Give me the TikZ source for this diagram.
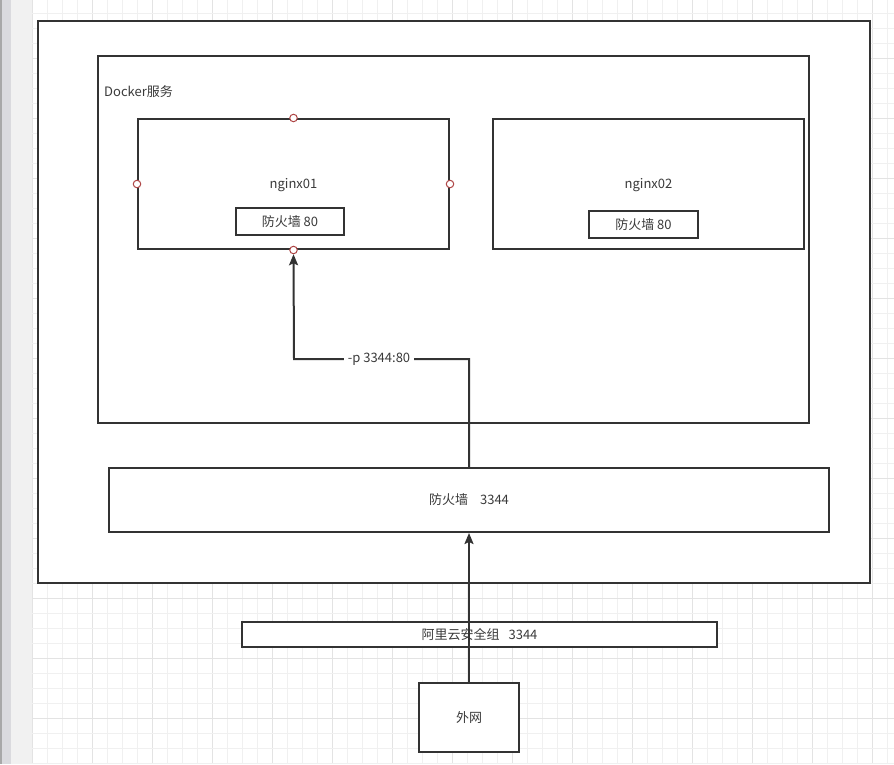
\documentclass[tikz,border=0pt]{standalone}
\usepackage{fontspec}
\setmainfont{Noto Sans CJK SC}
\usetikzlibrary{arrows.meta}
\definecolor{ln}{HTML}{333333}
\definecolor{tx}{HTML}{3A3A3A}
\definecolor{gmin}{HTML}{F0F0F0}
\definecolor{gmaj}{HTML}{E3E3E3}
\definecolor{cp}{RGB}{175,70,70}
\definecolor{sbA}{HTML}{F1F1F1}
\definecolor{sbB}{HTML}{DADADE}
\definecolor{sbC}{HTML}{A8A8A8}
\tikzset{
  box/.style={draw=ln, line width=2pt, fill=white, inner sep=0pt},
  txt/.style={text=tx, font=\fontsize{13}{15}\selectfont, inner sep=1pt},
  cpt/.style={circle, draw=cp, line width=1pt, fill=white, minimum size=7.5pt, inner sep=0pt},
  arr/.style={draw=ln, line width=2pt, -{Stealth[length=11pt,width=9pt,inset=2pt]}},
}
\begin{document}
\begin{tikzpicture}[x=1pt,y=-1pt]
\useasboundingbox (0,0) rectangle (894,764);
% side bars
\fill[white] (0,0) rectangle (894,764);
\fill[sbA] (0,0) rectangle (32,764);
\fill[sbB] (0,0) rectangle (11,764);
\fill[sbC] (0,0) rectangle (1.5,764);
% grid
\foreach \i in {0,...,57} {
  \pgfmathtruncatemacro{\m}{mod(\i,4)}
  \ifnum\m=0 \def\gc{gmaj}\else\def\gc{gmin}\fi
  \draw[draw=\gc, line width=1pt] (32+15*\i,0) -- (32+15*\i,764);
}
\foreach \i in {1,...,51} {
  \pgfmathtruncatemacro{\m}{mod(\i,4)}
  \ifnum\m=0 \def\gc{gmaj}\else\def\gc{gmin}\fi
  \draw[draw=\gc, line width=1pt] (32,-2+15*\i) -- (894,-2+15*\i);
}
% boxes
\node[box, minimum width=832pt, minimum height=562pt] (outer) at (454,302) {};
\node[box, minimum width=711pt, minimum height=367pt] (docker) at (453.5,239.5) {};
\node[txt, anchor=west] (dlabel) at (103,92) {Docker服务};
\node[box, minimum width=311pt, minimum height=130pt] (n1) at (293.5,184) {};
\node[txt] (n1t) at (293.5,185) {nginx01};
\node[box, minimum width=108pt, minimum height=27pt] (fw1) at (290,221.5) {};
\node[txt] (fw1t) at (290,221.5) {防火墙 80};
\node[box, minimum width=311pt, minimum height=130pt] (n2) at (648.5,184) {};
\node[txt] (n2t) at (648.5,185) {nginx02};
\node[box, minimum width=109pt, minimum height=27pt] (fw2) at (643.5,224.5) {};
\node[txt] (fw2t) at (643.5,224.5) {防火墙 80};
\node[box, minimum width=720pt, minimum height=64pt] (fw) at (469,500) {};
\node[txt] (fwt) at (469,500) {防火墙\hspace{12pt}3344};
\node[box, minimum width=475pt, minimum height=25pt] (ali) at (479.5,634.5) {};
\node[txt] (alit) at (479.5,634.5) {阿里云安全组\hspace{9pt}3344};
\node[box, minimum width=100pt, minimum height=69pt] (wai) at (469,717.5) {};
\node[txt] (wait) at (469,717.5) {外网};
% connection points
\node[cpt] (c1) at (n1.north) {};
\node[cpt] (c2) at (n1.west) {};
\node[cpt] (c3) at (n1.east) {};
\node[cpt] (c4) at (n1.south) {};
% connectors
\coordinate (bend) at (294,359);
\draw[arr] (wai.north) -- (fw.south);
\draw[arr] (fw.north) |- (bend) -- (c4.south);
\node[txt, fill=white, inner xsep=4pt, inner ysep=1pt] (plab) at (379,359) {-p 3344:80};
\end{tikzpicture}
\end{document}
